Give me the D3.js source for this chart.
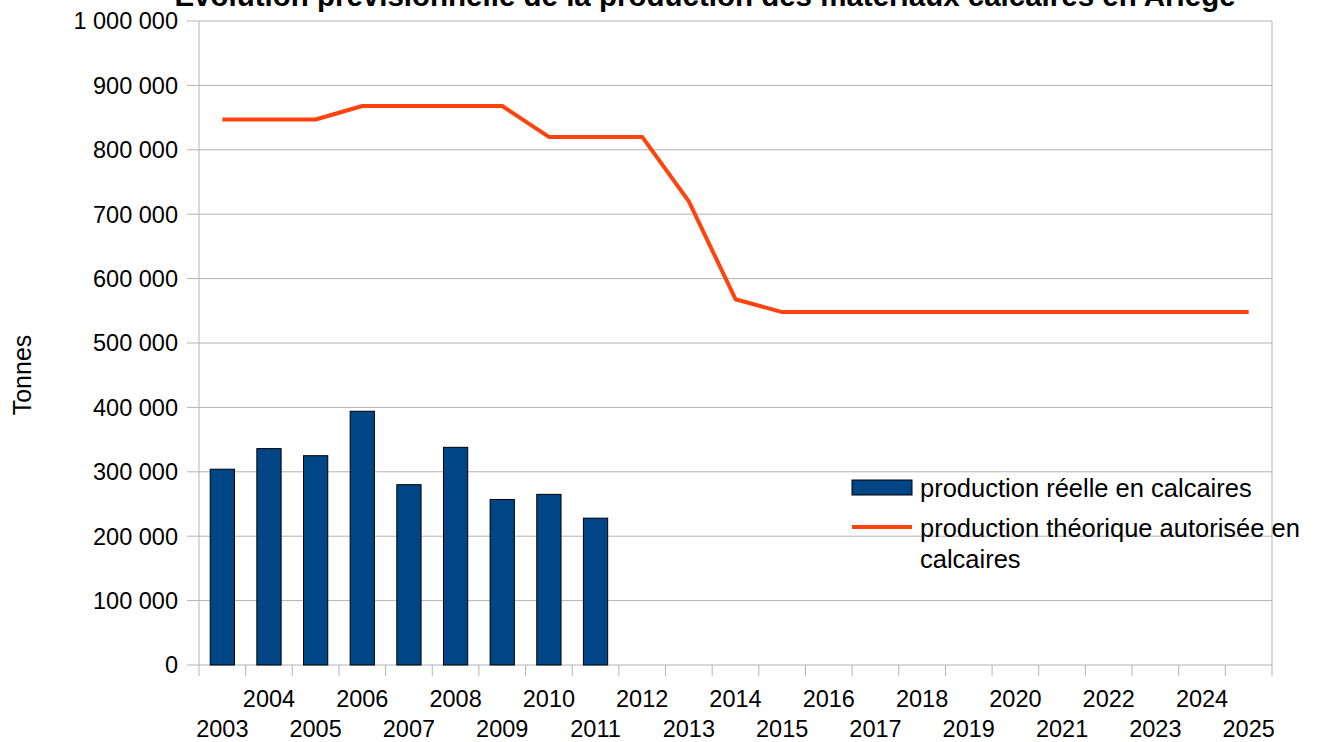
<!DOCTYPE html>
<html>
<head>
<meta charset="utf-8">
<title>Calcaires Ariège</title>
<script src="https://d3js.org/d3.v7.min.js"></script>
<style>
  body { margin: 0; background: #fff; }
  svg text { font-family: "Liberation Sans", Arial, sans-serif; fill: #000; }
</style>
</head>
<body>
<svg id="chart" width="1319" height="742"></svg>
<script>
// years on the x axis
var years = d3.range(2003, 2026);
// actual production (bars), only up to 2011
var barYears = [2003, 2004, 2005, 2006, 2007, 2008, 2009, 2010, 2011];
var reelle = [304000, 336000, 325000, 394000, 280000, 338000, 257000, 265000, 228000];
// authorised production (line)
var theorique = [847000, 847000, 847000, 868000, 868000, 868000, 868000, 820000, 820000, 820000,
                 720000, 568000, 548000, 548000, 548000, 548000, 548000, 548000, 548000, 548000,
                 548000, 548000, 548000];
var yTicks = [0, 100000, 200000, 300000, 400000, 500000, 600000, 700000, 800000, 900000, 1000000];

var svg = d3.select("#chart");
var mLeft = 199, mRight = 1272, mTop = 21, mBottom = 665;

var x = d3.scaleBand().domain(years).range([mLeft, mRight]).padding(0);
var y = d3.scaleLinear().domain([0, 1000000]).range([mBottom, mTop]);
var fr = d3.formatLocale({decimal: ",", thousands: " ", grouping: [3], currency: ["", " €"]});
var fmt = fr.format(",.0f");

// horizontal grid + y labels
svg.append("g").selectAll("line").data(yTicks).enter().append("line")
  .attr("x1", mLeft - 12).attr("x2", mRight)
  .attr("y1", function(d){ return y(d); }).attr("y2", function(d){ return y(d); })
  .attr("stroke", "#b3b3b3").attr("stroke-width", 1);

svg.append("g").selectAll("text").data(yTicks).enter().append("text")
  .attr("x", mLeft - 21).attr("y", function(d){ return y(d); })
  .attr("dy", "0.36em").attr("text-anchor", "end")
  .style("font-size", "23.5px")
  .text(function(d){ return fmt(d); });

// plot frame: left axis and right border
svg.append("line").attr("x1", mLeft).attr("x2", mLeft).attr("y1", mTop).attr("y2", mBottom + 11)
  .attr("stroke", "#b3b3b3");
svg.append("line").attr("x1", mRight).attr("x2", mRight).attr("y1", mTop).attr("y2", mBottom + 11)
  .attr("stroke", "#b3b3b3");

// x ticks at band edges
svg.append("g").selectAll("line").data(years.slice(1)).enter().append("line")
  .attr("x1", function(d){ return x(d); }).attr("x2", function(d){ return x(d); })
  .attr("y1", mBottom).attr("y2", mBottom + 11)
  .attr("stroke", "#b3b3b3");

// staggered year labels
svg.append("g").selectAll("text").data(years).enter().append("text")
  .attr("x", function(d){ return x(d) + x.bandwidth() / 2; })
  .attr("y", function(d, i){ return i % 2 === 0 ? 737 : 707; })
  .attr("text-anchor", "middle")
  .style("font-size", "23.5px")
  .text(function(d){ return d; });

// bars
var bw = x.bandwidth() * 0.52;
svg.append("g").selectAll("rect").data(barYears).enter().append("rect")
  .attr("x", function(d){ return x(d) + (x.bandwidth() - bw) / 2; })
  .attr("width", bw)
  .attr("y", function(d, i){ return y(reelle[i]); })
  .attr("height", function(d, i){ return y(0) - y(reelle[i]); })
  .attr("fill", "#004586").attr("stroke", "#000").attr("stroke-width", 1);

// line
var line = d3.line()
  .x(function(d, i){ return x(years[i]) + x.bandwidth() / 2; })
  .y(function(d){ return y(d); });
svg.append("path").datum(theorique)
  .attr("d", line).attr("fill", "none")
  .attr("stroke", "#ff420e").attr("stroke-width", 4).attr("stroke-linejoin", "round");

// legend
svg.append("rect").attr("x", 852).attr("y", 480).attr("width", 60).attr("height", 15)
  .attr("fill", "#004586").attr("stroke", "#000").attr("stroke-width", 1);
svg.append("text").attr("x", 920).attr("y", 497).style("font-size", "25.5px")
  .text("production réelle en calcaires");
svg.append("line").attr("x1", 852).attr("x2", 912).attr("y1", 527).attr("y2", 527)
  .attr("stroke", "#ff420e").attr("stroke-width", 4);
svg.append("text").attr("x", 920).attr("y", 536.5).style("font-size", "25.5px")
  .text("production théorique autorisée en");
svg.append("text").attr("x", 920).attr("y", 568).style("font-size", "25.5px")
  .text("calcaires");

// y title
svg.append("text").attr("transform", "translate(31,375) rotate(-90)")
  .attr("text-anchor", "middle").style("font-size", "25px").text("Tonnes");

// title (cut at the top in the original)
svg.append("text").attr("x", 705).attr("y", 6).attr("text-anchor", "middle")
  .style("font-size", "29.5px").style("font-weight", "bold")
  .text("Évolution prévisionnelle de la production des matériaux calcaires en Ariège");
</script>
</body>
</html>
